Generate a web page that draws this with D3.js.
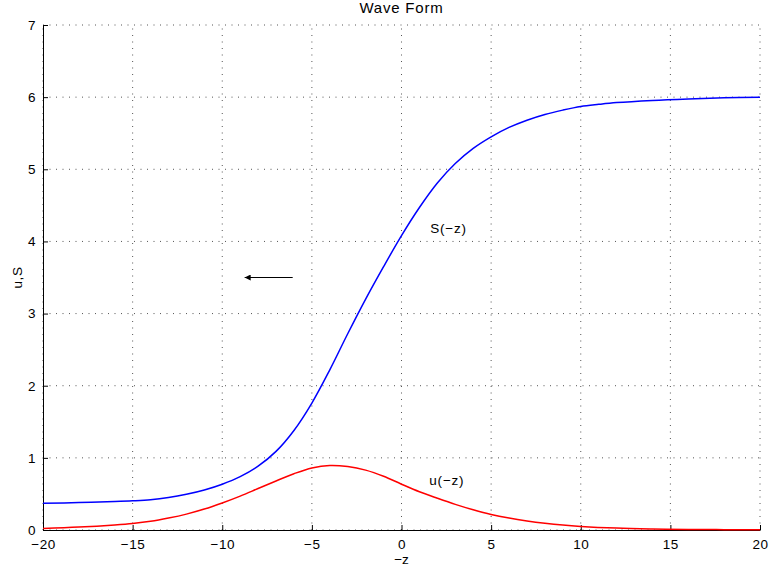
<!DOCTYPE html>
<html>
<head>
<meta charset="utf-8">
<script src="https://cdn.jsdelivr.net/npm/d3@7"></script>
<style>
  body { margin: 0; background: #fff; }
  text { font-family: "Liberation Sans", Arial, Helvetica, sans-serif; fill: #000; }
</style>
</head>
<body>
<svg id="chart" width="771" height="573"></svg>
<script>
// values
const zS = [-20, -18, -16, -15, -14, -13, -12, -11, -10, -9, -8, -7, -6, -5, -4, -3, -2, -1, 0, 1, 2, 3, 4, 5, 6, 7, 8, 9, 10, 11, 12, 14, 16, 18, 20];
const sVals = [0.37, 0.38, 0.395, 0.405, 0.42, 0.45, 0.495, 0.555, 0.635, 0.74, 0.885, 1.09, 1.38, 1.76, 2.22, 2.72, 3.20, 3.65, 4.08, 4.47, 4.81, 5.08, 5.29, 5.45, 5.58, 5.68, 5.76, 5.82, 5.87, 5.90, 5.925, 5.955, 5.975, 5.99, 6.00];

const zU = [-20, -18, -16, -15, -14, -13, -12, -11, -10, -9, -8, -7, -6, -5, -4, -3, -2, -1, 0, 1, 2, 3, 4, 5, 6, 7, 8, 9, 10, 12, 14, 16, 18, 20];
const uVals = [0.02, 0.04, 0.07, 0.09, 0.12, 0.165, 0.22, 0.29, 0.375, 0.47, 0.575, 0.68, 0.78, 0.86, 0.895, 0.88, 0.83, 0.745, 0.635, 0.53, 0.44, 0.355, 0.28, 0.215, 0.165, 0.125, 0.093, 0.068, 0.05, 0.027, 0.015, 0.008, 0.005, 0.003];

const xTicks = [-20, -15, -10, -5, 0, 5, 10, 15, 20];
const yTicks = [0, 1, 2, 3, 4, 5, 6, 7];

const labels = [
  { text: "S(\u2212z)", x: 1.6, y: 4.12 },
  { text: "u(\u2212z)", x: 1.55, y: 0.62 }
];
const arrow = { x1: -6.07, x2: -8.75, y: 3.5 };

const margin = { top: 25, right: 11, bottom: 43, left: 43 };
const width = 771 - margin.left - margin.right;
const height = 573 - margin.top - margin.bottom;

const svg = d3.select("#chart");

const x = d3.scaleLinear().domain([-20, 20]).range([margin.left, margin.left + width]);
const y = d3.scaleLinear().domain([0, 7]).range([margin.top + height, margin.top]);

// arrow head
svg.append("defs").append("marker")
  .attr("id", "head")
  .attr("viewBox", "0 0 10 10")
  .attr("refX", 10).attr("refY", 5)
  .attr("markerWidth", 9).attr("markerHeight", 6)
  .attr("markerUnits", "userSpaceOnUse")
  .attr("orient", "auto")
  .append("path")
  .attr("d", "M0,0L10,5L0,10z")
  .style("fill", "#000");

// grid
const grid = svg.append("g").attr("class", "grid");
grid.selectAll(".vgrid")
  .data(xTicks)
  .enter().append("line")
  .attr("x1", d => x(d)).attr("x2", d => x(d))
  .attr("y1", y(0)).attr("y2", y(7))
  .style("stroke", "#555")
  .style("stroke-width", 1)
  .style("stroke-dasharray", "1,5.5");
grid.selectAll(".hgrid")
  .data(yTicks)
  .enter().append("line")
  .attr("x1", x(-20)).attr("x2", x(20))
  .attr("y1", d => y(d)).attr("y2", d => y(d))
  .style("stroke", "#555")
  .style("stroke-width", 1)
  .style("stroke-dasharray", "1,5.5");

// axes
const xAxis = svg.append("g")
  .attr("transform", `translate(0,${y(0)})`)
  .call(d3.axisBottom(x).tickValues(xTicks).tickSizeInner(-5).tickSizeOuter(0).tickPadding(9)
    .tickFormat(d => d < 0 ? "\u2212" + Math.abs(d) : d));
const yAxis = svg.append("g")
  .attr("transform", `translate(${x(-20)},0)`)
  .call(d3.axisLeft(y).tickValues(yTicks).tickSizeInner(-5).tickSizeOuter(0).tickPadding(7)
    .tickFormat(d3.format("d")));

[xAxis, yAxis].forEach(a => {
  a.select(".domain").style("stroke", "#000");
  a.selectAll(".tick line").style("stroke", "#000");
  a.selectAll("text").style("font-size", "13.5px")
    .style("letter-spacing", "0.6px")
    .style("font-family", "'Liberation Sans', Arial, sans-serif");
});

// curves
const line = d3.line()
  .x(d => x(d[0]))
  .y(d => y(d[1]))
  .curve(d3.curveCatmullRom.alpha(0.5));

svg.append("path")
  .datum(zS.map((z, i) => [z, sVals[i]]))
  .attr("d", line)
  .style("fill", "none")
  .style("stroke", "#0000ff")
  .style("stroke-width", 1.5);

svg.append("path")
  .datum(zU.map((z, i) => [z, uVals[i]]))
  .attr("d", line)
  .style("fill", "none")
  .style("stroke", "#ff0000")
  .style("stroke-width", 1.5);

// annotations
svg.selectAll(".lbl")
  .data(labels)
  .enter().append("text")
  .attr("class", "lbl")
  .attr("x", d => x(d.x))
  .attr("y", d => y(d.y))
  .style("font-size", "13.5px")
  .style("letter-spacing", "0.8px")
  .text(d => d.text);

svg.append("line")
  .attr("x1", x(arrow.x1)).attr("x2", x(arrow.x2))
  .attr("y1", y(arrow.y)).attr("y2", y(arrow.y))
  .style("stroke", "#000")
  .style("stroke-width", 1)
  .attr("marker-end", "url(#head)");

// titles
svg.append("text")
  .attr("x", x(0))
  .attr("y", 13)
  .attr("text-anchor", "middle")
  .style("font-size", "15px")
  .style("letter-spacing", "0.8px")
  .text("Wave Form");

svg.append("text")
  .attr("x", x(0))
  .attr("y", 564)
  .attr("text-anchor", "middle")
  .style("font-size", "13.5px")
  .text("\u2212z");

svg.append("text")
  .attr("transform", `translate(22,${(y(0) + y(7)) / 2}) rotate(-90)`)
  .attr("text-anchor", "middle")
  .style("font-size", "13.5px")
  .style("letter-spacing", "0.6px")
  .text("u,S");
</script>
</body>
</html>
